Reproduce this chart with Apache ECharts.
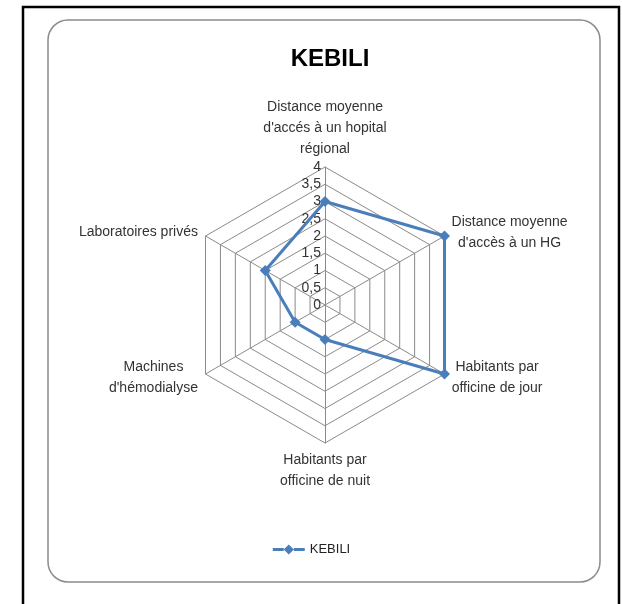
<!DOCTYPE html>
<html>
<head>
<meta charset="utf-8">
<title>KEBILI</title>
<script src="https://cdn.jsdelivr.net/npm/echarts@6/dist/echarts.min.js"></script>
<style>
  html, body { margin: 0; padding: 0; background: #ffffff; }
  #chart { width: 623px; height: 604px; }
</style>
</head>
<body>
<div id="chart"></div>
<script>
// axes of the radar, clockwise from the top as in the picture
const indicators = [
  "Distance moyenne\nd'accés à un hopital\nrégional",
  "Distance moyenne\nd'accès à un HG",
  'Habitants par\nofficine de jour',
  'Habitants par\nofficine de nuit',
  'Machines\nd\'hémodialyse',
  'Laboratoires privés'
]
const kebiliValues = [3, 4, 4, 1, 1, 2]
const seriesName = 'KEBILI'
const scaleMax = 4
const scaleSteps = 8 // 0, 0,5, 1 ... 4

const font = "'Liberation Sans Narrow', 'Liberation Sans', sans-serif"
const nameSize = 14

// echarts lays indicators out counter-clockwise, so keep the first and flip the rest
const order = [0].concat(indicators.map((_, i) => i).slice(1).reverse())

// line with a diamond in the middle, in a 32x10 box
const legendIcon = 'path://M0,3.5L11,3.5L11,6.5L0,6.5Z M11,5L16,0L21,5L16,10Z M21,3.5L32,3.5L32,6.5L21,6.5Z'

// each axis name is a block whose lines are centred on each other (like excel)
const ctx = document.createElement('canvas').getContext('2d')
ctx.font = nameSize + 'px ' + font
const nameRich = {}
indicators.forEach((name, i) => {
  const w = Math.max(...name.split('\n').map(l => ctx.measureText(l).width))
  nameRich['n' + i] = {
    width: Math.ceil(w) + 2,
    align: 'center',
    fontSize: nameSize,
    lineHeight: 21,
    fontFamily: font,
    color: '#333333'
  }
})

const chart = echarts.init(document.getElementById('chart'))

chart.setOption({
  backgroundColor: '#ffffff',
  textStyle: { fontFamily: font },
  title: {
    text: 'KEBILI',
    left: 325,
    top: 42,
    textAlign: 'center',
    textStyle: { fontFamily: font, fontSize: 24, fontWeight: 'bold', color: '#000000' }
  },
  legend: {
    bottom: 43,
    left: 'center',
    itemWidth: 32,
    itemHeight: 10,
    itemGap: 4,
    textStyle: { fontFamily: font, fontSize: 13, color: '#222222' },
    data: [{ name: seriesName, icon: legendIcon }]
  },
  graphic: [
    {
      type: 'rect',
      silent: true,
      shape: { x: 23, y: 7, width: 596, height: 600 },
      style: { fill: 'none', stroke: '#000000', lineWidth: 2.5 }
    },
    {
      type: 'rect',
      silent: true,
      shape: { x: 48, y: 20, width: 552, height: 562, r: 20 },
      style: { fill: 'none', stroke: '#8c8c8c', lineWidth: 1.5 }
    }
  ],
  radar: {
    center: [325, 305],
    radius: 138,
    startAngle: 90,
    splitNumber: scaleSteps,
    shape: 'polygon',
    indicator: order.map((k, i) => {
      const ind = { name: indicators[k], min: 0, max: scaleMax }
      if (i === 0) {
        ind.axisLabel = {
          show: true,
          margin: 4,
          fontSize: 14,
          color: '#333333',
          fontFamily: font,
          formatter: v => String(v).replace('.', ',')
        }
      }
      return ind
    }),
    axisName: {
      color: '#333333',
      fontSize: nameSize,
      lineHeight: 21,
      fontFamily: font,
      formatter: name => {
        const k = indicators.indexOf(name)
        return name.split('\n').map(l => '{n' + k + '|' + l + '}').join('\n')
      },
      rich: nameRich
    },
    nameGap: 7,
    axisLine: { lineStyle: { color: '#8a8a8a', width: 1 } },
    axisTick: { show: false },
    axisLabel: { show: false },
    splitLine: { lineStyle: { color: '#8a8a8a', width: 1 } },
    splitArea: { show: false }
  },
  series: [
    {
      name: seriesName,
      type: 'radar',
      symbol: 'diamond',
      symbolSize: 11,
      lineStyle: { color: '#4a7ebb', width: 3 },
      itemStyle: { color: '#4a7ebb' },
      data: [{ name: seriesName, value: order.map(k => kebiliValues[k]) }]
    }
  ]
})
</script>
</body>
</html>
